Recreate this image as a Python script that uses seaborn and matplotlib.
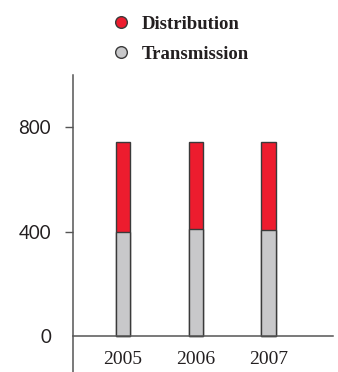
import pandas as pd
import seaborn as sns
import matplotlib.pyplot as plt
from matplotlib.lines import Line2D

years = ['2005', '2006', '2007']
transmission = [400, 410, 406]
distribution = [343, 333, 337]
yticks = [0, 400, 800]

red = '#ED1C2E'
gray = '#C8C8CA'
edge = '#3A3A3A'

df = pd.DataFrame({'year': years, 'transmission': transmission, 'distribution': distribution})
df['total'] = df.transmission + df.distribution

sns.set_style('white')
plt.rcParams['font.family'] = ['Liberation Serif', 'DejaVu Sans']

fig = plt.figure(figsize=(3.38, 3.72), dpi=100)
ax = fig.add_axes([0.215, 0.0, 0.77, 0.798])

# stacked: total in red, transmission in gray on top
sns.barplot(df, x='year', y='total', color=red, width=0.2, saturation=1,
            edgecolor=edge, linewidth=1, ax=ax)
sns.barplot(df, x='year', y='transmission', color=gray, width=0.2, saturation=1,
            edgecolor=edge, linewidth=1, ax=ax)

ax.set_xlim(-0.69, 2.88)
ax.set_ylim(-138, 1000)
ax.set_xlabel('')
ax.set_ylabel('')

for s in ['top', 'right']:
    ax.spines[s].set_visible(False)
ax.spines['bottom'].set_position(('data', 0))
for s in ['left', 'bottom']:
    ax.spines[s].set_color('#555555')
    ax.spines[s].set_linewidth(1.1)

ax.set_yticks(yticks)
ax.set_yticklabels([str(v) for v in yticks], family='Lato', fontsize=13.5, color='#231F20')
ax.tick_params(axis='y', length=6, width=1, color='#555555', pad=9.5, left=True)
ax.yaxis.get_major_ticks()[0].tick1line.set_visible(False)
ax.tick_params(axis='x', length=0, pad=11, labelsize=14, labelcolor='#231F20')

handles = [
    Line2D([], [], marker='o', ls='', markersize=8.4, markerfacecolor=red,
           markeredgecolor=edge, markeredgewidth=1, label='Distribution'),
    Line2D([], [], marker='o', ls='', markersize=8.4, markerfacecolor=gray,
           markeredgecolor=edge, markeredgewidth=1, label='Transmission'),
]
leg = fig.legend(handles=handles, loc='upper left', bbox_to_anchor=(0.330, 0.958),
                 frameon=False, borderpad=0, borderaxespad=0, handlelength=1,
                 handletextpad=0.6, labelspacing=0.70,
                 prop={'weight': 'bold', 'size': 13.5})
for t in leg.get_texts():
    t.set_color('#231F20')

plt.savefig('out.png', dpi=100)
plt.close()
